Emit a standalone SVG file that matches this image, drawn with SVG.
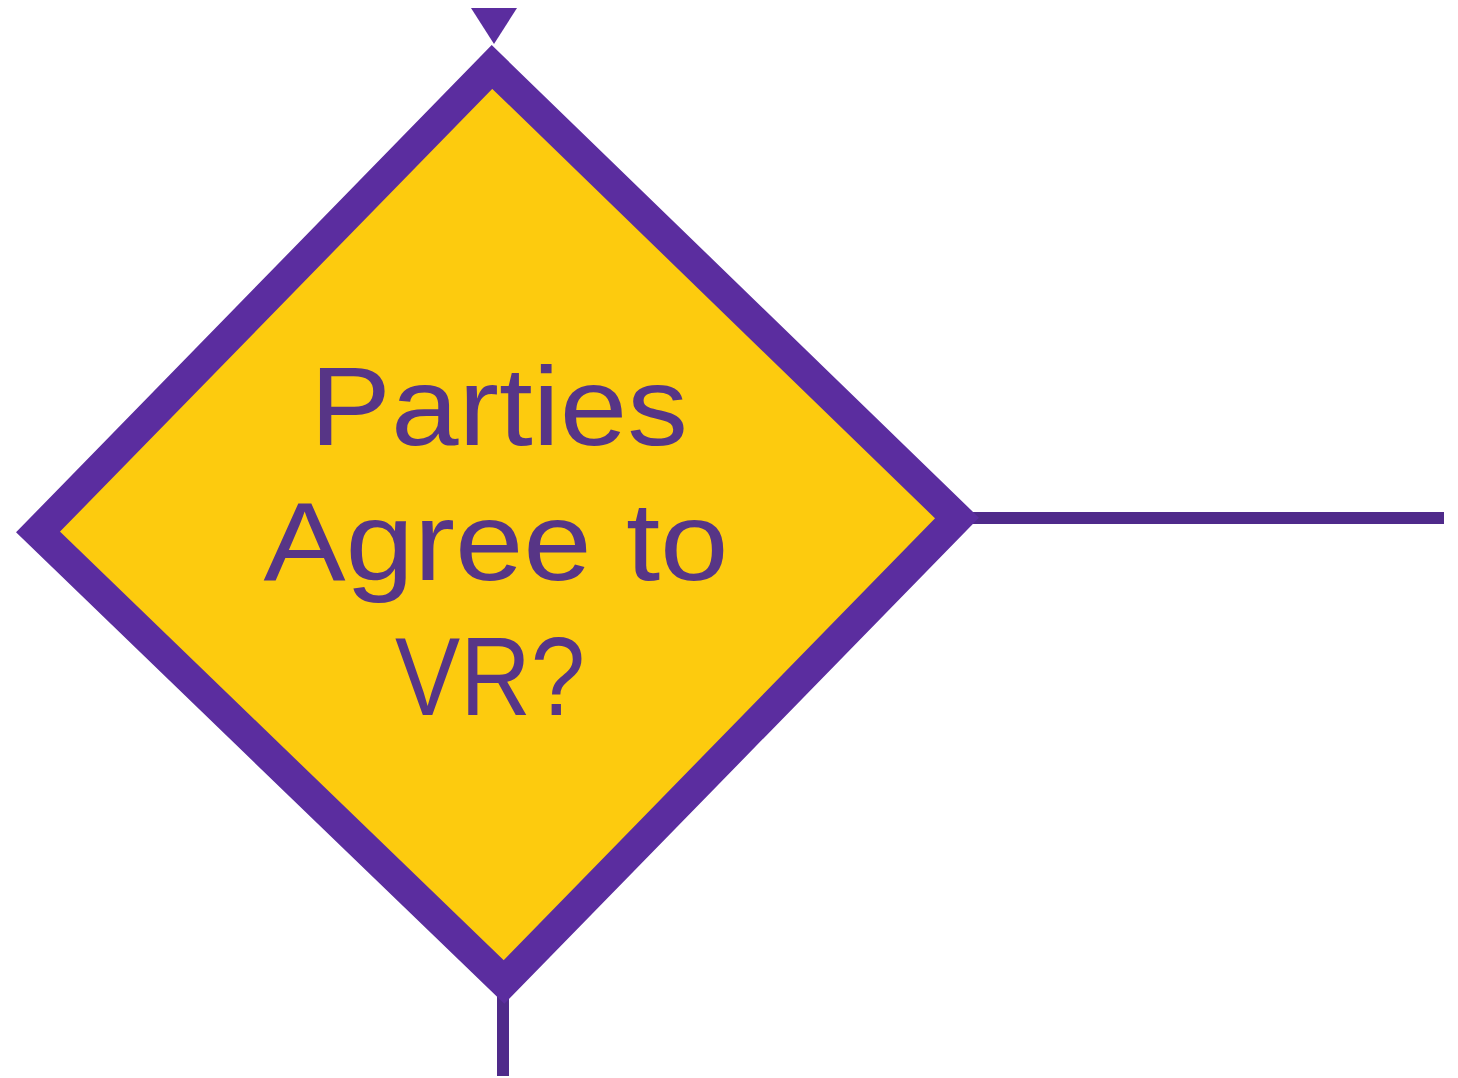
<svg xmlns="http://www.w3.org/2000/svg" width="1458" height="1078" viewBox="0 0 1458 1078">
<style>
.conn{stroke:#4F2A8A;stroke-width:12;fill:none}
.dia{fill:#FDCB0E;stroke:#5B2D9F;stroke-width:31;stroke-linejoin:miter;stroke-miterlimit:4}
.lbl{font-family:"Liberation Sans",Arial,sans-serif;font-size:112px;fill:#573586;text-anchor:middle}
</style>
<rect width="1458" height="1078" fill="#FFFFFF"/>
<g id="connectors">
<line class="conn" x1="960" y1="518" x2="1444" y2="518"/>
<line class="conn" x1="503" y1="990" x2="503" y2="1076"/>
<polygon points="471,8 517,8 494,44" fill="#5B2D9F"/>
</g>
<g id="decision">
<polygon class="dia" points="492,67 957,518 504,982 38,532"/>
<text class="lbl" x="499" y="445" textLength="378" lengthAdjust="spacingAndGlyphs">Parties</text>
<text class="lbl" x="496" y="580" textLength="465" lengthAdjust="spacingAndGlyphs">Agree to</text>
<text class="lbl" x="490" y="715" textLength="190" lengthAdjust="spacingAndGlyphs">VR?</text>
</g>
</svg>
